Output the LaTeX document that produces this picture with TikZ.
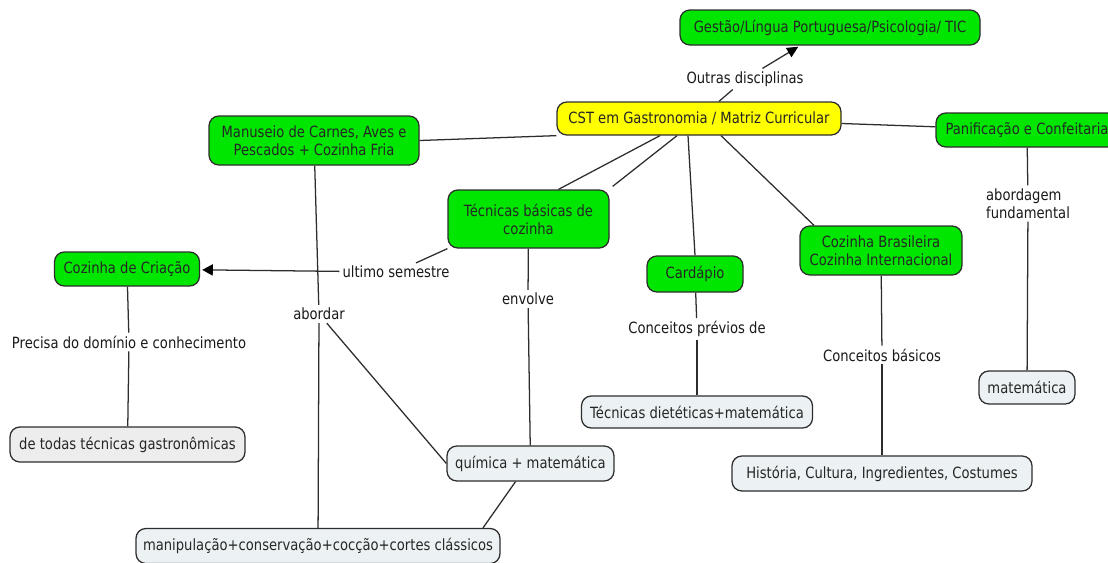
\documentclass[tikz,border=0pt]{standalone}
\usepackage{fontspec}
\setmainfont{DejaVu Sans}[FakeStretch=0.85]
\usetikzlibrary{arrows.meta}
\definecolor{conceptgreen}{RGB}{0,230,0}
\definecolor{rootyellow}{RGB}{255,255,0}
\definecolor{leafgray}{RGB}{236,242,244}
\definecolor{edgegray}{RGB}{45,45,45}
\newlength{\px}
\setlength{\px}{0.025cm}
\newcommand{\mapfont}{\fontsize{11}{12.8}\selectfont}

\begin{document}
\begin{tikzpicture}[x=0.025cm, y=-0.025cm,
    concept/.style={draw=edgegray, line width=0.9pt, rounded corners=7pt, fill=conceptgreen,
        text=black!85, align=center, font=\mapfont, inner sep=0pt},
    root/.style={concept, fill=rootyellow},
    leaf/.style={concept, fill=leafgray},
    boxsize/.style 2 args={minimum width=#1\px, minimum height=#2\px},
    phrase/.style={font=\mapfont, text=black!90, inner sep=2pt},
    link/.style={draw=edgegray, line width=0.9pt}]
        \useasboundingbox (0,0) rectangle (1108,562);
        \fill[white] (0,0) rectangle (1108,562);

        % concepts
        \node[root, boxsize={284}{33}] (cst) at (699,118.5) {CST em Gastronomia / Matriz Curricular};
        \node[concept, boxsize={300}{35}] (gestao) at (830,27.5) {Gestão/Língua Portuguesa/Psicologia/ TIC};
        \node[concept, boxsize={182}{34}] (panif) at (1027,130) {Panificação e Confeitaria};
        \node[concept, boxsize={210}{49}] (manuseio) at (314,140.5) {Manuseio de Carnes, Aves e\\Pescados + Cozinha Fria};
        \node[concept, boxsize={161}{58}] (tecnicas) at (528.5,219) {Técnicas básicas de\\cozinha};
        \node[concept, boxsize={96}{36}] (cardapio) at (695,274) {Cardápio};
        \node[concept, boxsize={162}{49}] (cozbras) at (881,250.5) {Cozinha Brasileira\\Cozinha Internacional};
        \node[concept, boxsize={145}{34}] (criacao) at (127,269) {Cozinha de Criação};
        \node[leaf, boxsize={96}{33}] (matematica) at (1027,387.5) {matemática};
        \node[leaf, boxsize={231}{32}] (dieteticas) at (697,412) {Técnicas dietéticas+matemática};
        \node[leaf, boxsize={300}{35}] (historia) at (882,473.5) {História, Cultura, Ingredientes, Costumes};
        \node[leaf, boxsize={235}{35}, fill=black!7] (todas) at (127.5,444.5) {de todas técnicas gastronômicas};
        \node[leaf, boxsize={167}{35}] (quimica) at (530.5,463.5) {química + matemática};
        \node[leaf, boxsize={364}{35}] (manip) at (318,546) {manipulação+conservação+cocção+cortes clássicos};

        % linking phrases
        \node[phrase] (outras) at (745,79) {Outras disciplinas};
        \node[phrase] (ultimo) at (396,272) {ultimo semestre};
        \node[phrase] (abordar) at (319,314) {abordar};
        \node[phrase] (envolve) at (528,299) {envolve};
        \node[phrase] (previos) at (697,329) {Conceitos prévios de};
        \node[phrase] (basicos) at (882,355) {Conceitos básicos};
        \node[phrase, align=left] (abordagem) at (1028,203.5) {abordagem\\fundamental};
        \node[phrase] (precisa) at (129,342) {Precisa do domínio e conhecimento};

        % connectors
        \foreach \a/\b in {cst/outras, cst/panif, panif/abordagem, abordagem/matematica,
                           cardapio/previos, previos/dieteticas, cozbras/basicos, basicos/historia,
                           tecnicas/envolve, envolve/quimica, manuseio/abordar, abordar/manip,
                           criacao/precisa, precisa/todas}
            \draw[link] (\a) -- (\b);
        \draw[link, -{Triangle[length=8pt, width=7.5pt, color=black]}, shorten >=1.5pt] (outras) -- (gestao);
        \draw[link, -{Triangle[length=7.5pt, width=8pt, color=black]}, shorten >=1.5pt] (ultimo) -- (criacao);
        \draw[link] (tecnicas.south west) -- (ultimo);
        \draw[link] (manuseio.east) -- (cst.south west);
        \draw[link] ([xshift=-39\px]cst.south) -- ([xshift=30\px]tecnicas.north);
        \draw[link] ([xshift=-22\px]cst.south) -- ([xshift=3\px, yshift=3\px]tecnicas.north east);
        \draw[link] ([xshift=-11\px]cst.south) -- (cardapio.north);
        \draw[link] ([xshift=22\px]cst.south) -- ([xshift=-67\px]cozbras.north);
        \draw[link] (abordar) -- (quimica.west);
        \draw[link] ([xshift=-15\px]quimica.south) -- ([xshift=165\px]manip.north);
\end{tikzpicture}
\end{document}
